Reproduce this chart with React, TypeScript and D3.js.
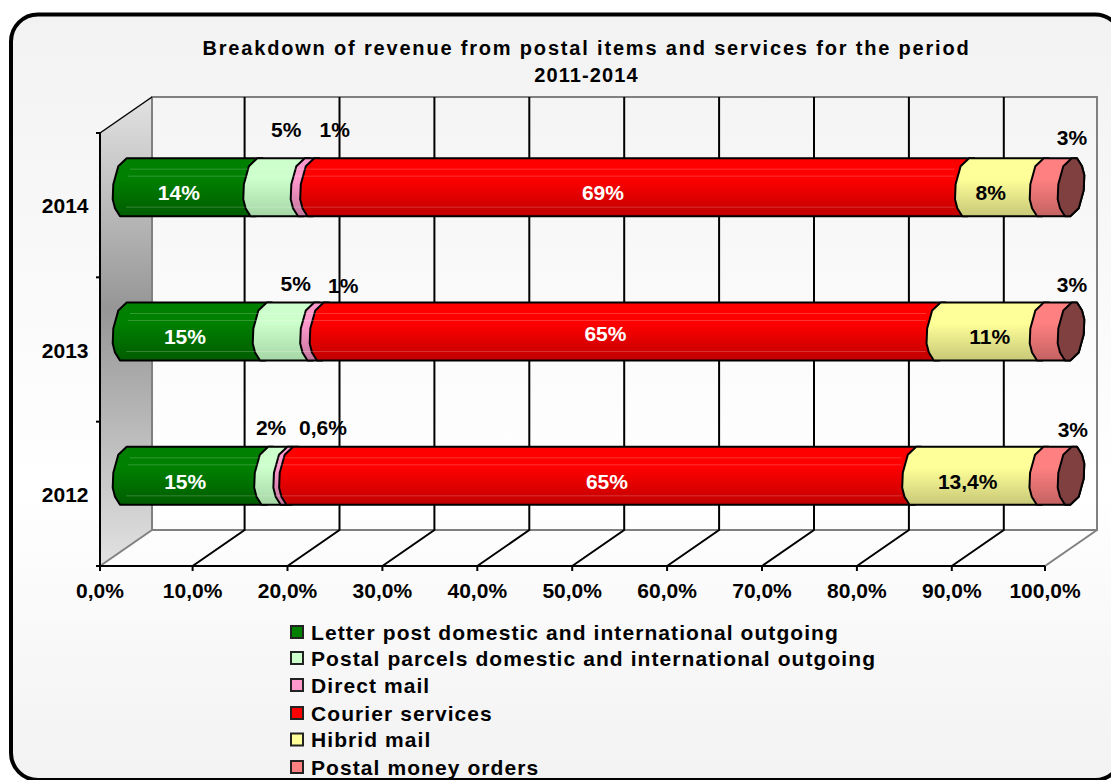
import React from "react";
import * as d3 from "d3";

// Revenue shares per year, top row first
const years = ["2014", "2013", "2012"];
const letterPost = [14, 15, 15];
const postalParcels = [5, 5, 2];
const directMail = [1, 1, 0.6];
const courier = [69, 65, 65];
const hibridMail = [8, 11, 13.4];
const moneyOrders = [3, 3, 3];

const seriesNames = [
  "Letter post domestic and international outgoing",
  "Postal parcels domestic and international outgoing",
  "Direct mail",
  "Courier services",
  "Hibrid mail",
  "Postal money orders",
];
const seriesValues = [letterPost, postalParcels, directMail, courier, hibridMail, moneyOrders];
const tickValues = [0, 10, 20, 30, 40, 50, 60, 70, 80, 90, 100];
const titleLines = ["Breakdown of revenue from postal items and services for the period", "2011-2014"];
const titleTracking = [1.82, 1.1];

// Look of each series: top colour, bottom colour, label colour
const seriesStyle = [
  ["#008000", "#005c00", "#ffffff"],
  ["#ccffcc", "#a6d6a6", "#000000"],
  ["#ff99cc", "#c4769d", "#000000"],
  ["#ff0000", "#c00000", "#ffffff"],
  ["#ffff99", "#c8c878", "#000000"],
  ["#ff8080", "#c46262", "#000000"],
];

// Hand-placed label offsets from each segment's centre: [dx, dy] per year, per series
const labelNudges = [
  [[-12, -5], [6, -68], [26, -68], [-38, -5.5], [-15, -5], [15, -60]],
  [[-10.5, -6], [6, -59], [25, -57], [-26, -9], [-2, -6], [15, -58]],
  [[-11, -5], [-6, -59], [33.5, -59], [3, -5], [-12, -5], [16, -57]],
];

const FONT = "'Liberation Sans', Arial, sans-serif";
const front = { left: 100, right: 1045, top: 133, bottom: 566 };
const depth = { dx: 52, dy: -36 };
const halfBar = 29;

// Axis rounding of the plot makes the end intervals slightly narrower
const x = d3.scaleLinear().domain([0, 10, 90, 100]).range([front.left, 192.6, 951.8, front.right]);
const y = d3.scaleBand().domain(years).range([front.top, front.bottom]);

const stackRows = years.map((year, i) => {
  const row: Record<string, number | string> = { year };
  seriesNames.forEach((name, s) => (row[name] = seriesValues[s][i]));
  return row;
});
const stacked = d3.stack<any>().keys(seriesNames).offset(d3.stackOffsetExpand)(stackRows);

// Left half of the tilted bar cross-section, relative to its centre
const leftProfile: [number, number][] = [
  [0.7, -halfBar], [-7.7, -21], [-12.7, -3], [-13.3, 12], [-11, 21], [-6, halfBar],
];
const rightProfile: [number, number][] = leftProfile.map(([a, b]) => [-a, -b] as [number, number]);

const formatValue = (v: number) => `${String(v).replace(".", ",")}%`;
const barX = (share: number) => x(share * 100) + depth.dx / 2;
const barY = (year: string) => y(year)! + y.bandwidth() / 2 + depth.dy / 2;
const line = d3.line();

function segmentPath(x0: number, x1: number, cy: number) {
  const left = leftProfile.map(([a, b]) => [x0 + a, cy + b] as [number, number]);
  const right = rightProfile.map(([a, b]) => [x1 + a, cy + b] as [number, number]);
  return line([...left, ...right])! + "Z";
}

function capPath(cx: number, cy: number) {
  const pts = [...leftProfile, ...rightProfile].map(([a, b]) => [cx + a, cy + b] as [number, number]);
  return line(pts)! + "Z";
}

export default function App() {
  const backY = front.top + depth.dy;
  const backBottom = front.bottom + depth.dy;
  const backLeft = front.left + depth.dx;
  const backRight = front.right + depth.dx;
  const bold = { fontFamily: FONT, fontWeight: 700, fill: "#000" } as const;
  const rowTicks = [front.top, ...years.map((yr) => y(yr)! + y.bandwidth())];
  const legendRows = [632, 658, 685, 713, 739.5, 767];

  return (
    <svg
      width={1111}
      height={780}
      viewBox="0 0 1111 780"
      style={{ position: "absolute", left: 0, top: 0, display: "block", background: "#fff" }}
    >
      <defs>
        <linearGradient id="panel" x1="0" y1="0" x2="0" y2="1">
          <stop offset="0" stopColor="#f2f2f2" />
          <stop offset="0.62" stopColor="#ffffff" />
          <stop offset="1" stopColor="#f2f2f2" />
        </linearGradient>
        <linearGradient id="wall" x1="0" y1="0" x2="0" y2="1">
          <stop offset="0" stopColor="#e2e2e2" />
          <stop offset="0.45" stopColor="#969696" />
          <stop offset="1" stopColor="#e2e2e2" />
        </linearGradient>
        {seriesStyle.map(([top, bottom], s) => (
          <linearGradient key={s} id={`seg${s}`} x1="0" y1="0" x2="0" y2="1">
            <stop offset="0" stopColor={top} />
            <stop offset="0.35" stopColor={top} />
            <stop offset="1" stopColor={bottom} />
          </linearGradient>
        ))}
      </defs>

      {/* rounded chart panel, running past the right and bottom edges */}
      <rect x={11} y={14.5} width={1111} height={765.5} rx={27} fill="url(#panel)" stroke="#000" strokeWidth={4} />

      {/* side wall */}
      <polygon
        points={`${front.left},${front.top} ${backLeft},${backY} ${backLeft},${backBottom} ${front.left},${front.bottom}`}
        fill="url(#wall)"
      />

      {/* back wall and floor edges */}
      <g fill="none" stroke="#808080" strokeWidth={2}>
        <path d={`M${backLeft},${backBottom}V${backY}H${backRight}V${backBottom}H${backLeft}`} />
        <path d={`M${front.left},${front.bottom}L${backLeft},${backBottom}`} />
        <path d={`M${front.right},${front.bottom}L${backRight},${backBottom}`} />
      </g>
      <path d={`M${front.left},${front.top}L${backLeft},${backY}`} stroke="#000" strokeWidth={1.5} />

      {/* gridlines up the back wall and across the floor */}
      <g stroke="#000" strokeWidth={2}>
        {tickValues.slice(1, -1).map((t) => (
          <path
            key={t}
            fill="none"
            d={`M${x(t)},${front.bottom}L${x(t) + depth.dx},${backBottom}V${backY}`}
          />
        ))}
      </g>

      {/* axes */}
      <g stroke="#000" strokeWidth={2}>
        <line x1={front.left} x2={front.left} y1={front.top} y2={front.bottom + 5} />
        <line x1={front.left - 4} x2={front.right} y1={front.bottom} y2={front.bottom} />
        {tickValues.map((t) => (
          <line key={t} x1={x(t)} x2={x(t)} y1={front.bottom} y2={front.bottom + 5} />
        ))}
        {rowTicks.map((t) => (
          <line key={t} x1={front.left - 4} x2={front.left} y1={t} y2={t} />
        ))}
      </g>

      {/* stacked cylinders, each segment overlapping the one before it */}
      {years.map((year, i) => {
        const cy = barY(year);
        return (
          <g key={year}>
            {stacked.map((layer, s) => (
              <path
                key={s}
                d={segmentPath(barX(layer[i][0]), barX(layer[i][1]), cy)}
                fill={`url(#seg${s})`}
                stroke="#000"
                strokeWidth={2}
                strokeLinejoin="round"
              />
            ))}
            <g stroke="#fff" strokeOpacity={0.2} strokeWidth={1}>
              <line x1={barX(0) + 4} x2={barX(stacked[4][i][0]) - 14} y1={cy - 18} y2={cy - 18} />
              <line x1={barX(0) + 2} x2={barX(stacked[4][i][0]) - 14} y1={cy - 11} y2={cy - 11} />
              <line x1={barX(0)} x2={barX(stacked[4][i][0]) - 14} y1={cy + 20} y2={cy + 20} />
            </g>
            <path d={capPath(barX(1), cy)} fill="#804040" stroke="#000" strokeWidth={2} strokeLinejoin="round" />
          </g>
        );
      })}

      {/* value labels */}
      <g fontFamily={FONT} fontWeight={700} fontSize={21} textAnchor="middle">
        {years.map((year, i) =>
          stacked.map((layer, s) => {
            const mid = (layer[i][0] + layer[i][1]) / 2;
            const [dx, dy] = labelNudges[i][s];
            return (
              <text
                key={`${year}-${s}`}
                x={barX(mid) + dx}
                y={y(year)! + y.bandwidth() / 2 + dy}
                fill={seriesStyle[s][2]}
              >
                {formatValue(seriesValues[s][i])}
              </text>
            );
          })
        )}
      </g>

      {/* year labels */}
      {years.map((year) => (
        <text
          key={year}
          {...bold}
          fontSize={21}
          x={88.5}
          y={y(year)! + y.bandwidth() / 2 + 8}
          textAnchor="end"
        >
          {year}
        </text>
      ))}

      {/* percent labels */}
      {tickValues.map((t) => (
        <text key={t} {...bold} fontSize={21} x={x(t)} y={598} textAnchor="middle">
          {d3.format(".1f")(t).replace(".", ",")}%
        </text>
      ))}

      {/* title */}
      {titleLines.map((lineText, i) => (
        <text
          key={i}
          {...bold}
          fontSize={20}
          letterSpacing={titleTracking[i]}
          x={586.5}
          y={55 + i * 27}
          textAnchor="middle"
        >
          {lineText}
        </text>
      ))}

      {/* legend */}
      {seriesNames.map((name, s) => (
        <g key={name}>
          <rect
            x={291}
            y={legendRows[s] - 6}
            width={12}
            height={12}
            fill={seriesStyle[s][0]}
            stroke="#222"
            strokeWidth={2}
          />
          <text {...bold} fontSize={21} letterSpacing={1.08} x={311} y={legendRows[s] + 7.5}>
            {name}
          </text>
        </g>
      ))}
    </svg>
  );
}
